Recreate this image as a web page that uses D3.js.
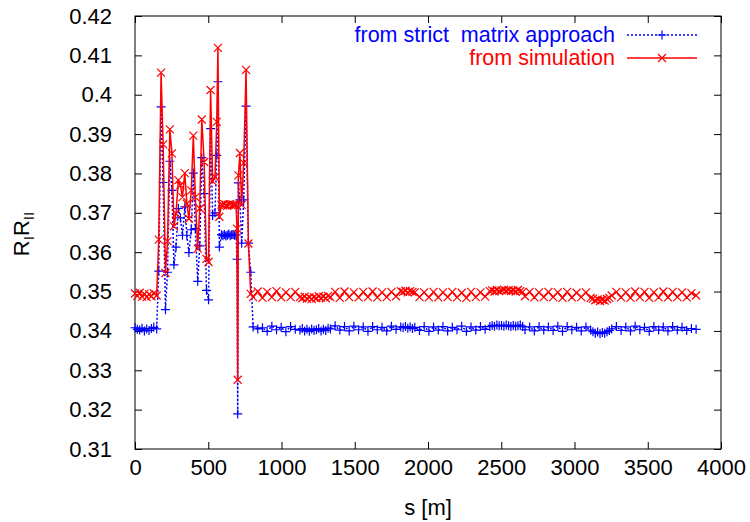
<!DOCTYPE html>
<html>
<head>
<meta charset="utf-8">
<script src="https://cdn.jsdelivr.net/npm/d3@7"></script>
<style>
  body { margin: 0; background: #fff; }
  svg { display: block; font-family: "Liberation Sans", Arial, sans-serif; }
</style>
</head>
<body>
<div id="container"></div>
<script>
"use strict";

const width = 750;
const height = 522;

// position along the line, s [m]
const sPos = [
  0, 16, 32, 48, 64, 80, 96, 112, 128, 148,
  162, 178, 192, 208, 222, 238, 252, 266, 280, 296,
  310, 324, 340, 354, 368, 384, 398, 412, 428, 442,
  456, 472, 488, 502, 516, 530, 546, 558, 566, 576,
  590, 600, 610, 620, 630, 640, 650, 660, 670, 680,
  690, 696, 701, 706, 716, 728, 742, 758, 774, 790,
  806, 838, 870, 902, 934, 966, 998, 1030, 1062, 1094,
  1126, 1142, 1158, 1174, 1190, 1206, 1222, 1238, 1254, 1270,
  1286, 1302, 1318, 1334, 1366, 1398, 1430, 1462, 1494, 1526,
  1558, 1590, 1622, 1654, 1686, 1718, 1750, 1782, 1814, 1830,
  1846, 1862, 1878, 1894, 1910, 1942, 1974, 2006, 2038, 2070,
  2102, 2134, 2166, 2198, 2230, 2262, 2294, 2326, 2358, 2390,
  2422, 2438, 2454, 2470, 2486, 2502, 2518, 2534, 2550, 2566,
  2582, 2598, 2614, 2630, 2646, 2662, 2694, 2726, 2758, 2790,
  2822, 2854, 2886, 2918, 2950, 2982, 3014, 3046, 3078, 3110,
  3126, 3142, 3158, 3174, 3190, 3206, 3222, 3238, 3254, 3286,
  3318, 3350, 3382, 3414, 3446, 3478, 3510, 3542, 3574, 3606,
  3638, 3670, 3702, 3734, 3766, 3798, 3830
];

// from strict matrix approach (blue)
const strictVals = [
  0.3408, 0.3404, 0.3402, 0.3407, 0.3400, 0.3405, 0.3401, 0.3406, 0.3409, 0.3405,
  0.3552, 0.3969, 0.3777, 0.3454, 0.3549, 0.3831, 0.3757, 0.3568, 0.3613, 0.3711,
  0.3687, 0.3643, 0.3715, 0.3643, 0.3599, 0.3657, 0.3801, 0.3660, 0.3526, 0.3616,
  0.3840, 0.3749, 0.3503, 0.3479, 0.3914, 0.3693, 0.3700, 0.3846, 0.4033, 0.3613,
  0.3644, 0.3642, 0.3645, 0.3641, 0.3643, 0.3646, 0.3642, 0.3644, 0.3645, 0.3643,
  0.3644, 0.3582, 0.3189, 0.3776, 0.3733, 0.3623, 0.3733, 0.3971, 0.3623, 0.3549,
  0.3410, 0.3405, 0.3408, 0.3399, 0.3412, 0.3403, 0.3409, 0.3398, 0.3411, 0.3404,
  0.3402, 0.3406, 0.3400, 0.3404, 0.3399, 0.3405, 0.3401, 0.3403, 0.3406, 0.3400,
  0.3404, 0.3401, 0.3407, 0.3405, 0.3413, 0.3402, 0.3411, 0.3400, 0.3412, 0.3403,
  0.3410, 0.3399, 0.3411, 0.3403, 0.3409, 0.3400, 0.3412, 0.3404, 0.3410, 0.3408,
  0.3411, 0.3407, 0.3410, 0.3406, 0.3409, 0.3401, 0.3411, 0.3399, 0.3410, 0.3402,
  0.3411, 0.3400, 0.3409, 0.3403, 0.3412, 0.3399, 0.3410, 0.3402, 0.3411, 0.3404,
  0.3411, 0.3414, 0.3412, 0.3415, 0.3413, 0.3414, 0.3412, 0.3415, 0.3413, 0.3411,
  0.3414, 0.3412, 0.3413, 0.3415, 0.3411, 0.3403, 0.3410, 0.3400, 0.3411, 0.3402,
  0.3410, 0.3401, 0.3412, 0.3399, 0.3411, 0.3403, 0.3409, 0.3400, 0.3410, 0.3402,
  0.3398, 0.3394, 0.3397, 0.3393, 0.3396, 0.3394, 0.3398, 0.3401, 0.3405, 0.3411,
  0.3401, 0.3410, 0.3400, 0.3412, 0.3403, 0.3409, 0.3399, 0.3411, 0.3402, 0.3410,
  0.3400, 0.3411, 0.3402, 0.3409, 0.3401, 0.3406, 0.3404
];

// from simulation (red)
const simVals = [
  0.3495, 0.3489, 0.3497, 0.3487, 0.3494, 0.3486, 0.3493, 0.3488, 0.3496, 0.3490,
  0.3632, 0.4056, 0.3874, 0.3547, 0.3628, 0.3912, 0.3851, 0.3666, 0.3698, 0.3783,
  0.3770, 0.3740, 0.3801, 0.3723, 0.3685, 0.3757, 0.3896, 0.3740, 0.3609, 0.3711,
  0.3937, 0.3829, 0.3583, 0.3575, 0.4012, 0.3780, 0.3791, 0.3931, 0.4119, 0.3690,
  0.3721, 0.3719, 0.3722, 0.3720, 0.3718, 0.3721, 0.3722, 0.3719, 0.3721, 0.3720,
  0.3721, 0.3660, 0.3276, 0.3795, 0.3852, 0.3720, 0.3827, 0.4063, 0.3622, 0.3494,
  0.3486, 0.3500, 0.3484, 0.3499, 0.3486, 0.3501, 0.3485, 0.3498, 0.3486, 0.3499,
  0.3486, 0.3483, 0.3487, 0.3482, 0.3485, 0.3481, 0.3486, 0.3483, 0.3488, 0.3484,
  0.3487, 0.3483, 0.3489, 0.3486, 0.3499, 0.3484, 0.3500, 0.3486, 0.3498, 0.3485,
  0.3499, 0.3486, 0.3500, 0.3485, 0.3498, 0.3486, 0.3499, 0.3488, 0.3501, 0.3499,
  0.3502, 0.3498, 0.3501, 0.3499, 0.3498, 0.3486, 0.3498, 0.3485, 0.3499, 0.3485,
  0.3498, 0.3486, 0.3499, 0.3485, 0.3497, 0.3484, 0.3499, 0.3486, 0.3498, 0.3487,
  0.3501, 0.3503, 0.3500, 0.3504, 0.3501, 0.3503, 0.3505, 0.3502, 0.3504, 0.3501,
  0.3503, 0.3500, 0.3504, 0.3501, 0.3499, 0.3488, 0.3499, 0.3485, 0.3498, 0.3486,
  0.3499, 0.3486, 0.3498, 0.3484, 0.3499, 0.3485, 0.3497, 0.3486, 0.3498, 0.3484,
  0.3482, 0.3478, 0.3480, 0.3476, 0.3479, 0.3477, 0.3481, 0.3484, 0.3490, 0.3499,
  0.3485, 0.3498, 0.3484, 0.3500, 0.3486, 0.3499, 0.3484, 0.3498, 0.3485, 0.3500,
  0.3485, 0.3499, 0.3486, 0.3498, 0.3485, 0.3496, 0.3490
];

const xTicks = [0, 500, 1000, 1500, 2000, 2500, 3000, 3500, 4000];
const yTicks = [0.31, 0.32, 0.33, 0.34, 0.35, 0.36, 0.37, 0.38, 0.39, 0.40, 0.41, 0.42];

const seriesNames = ["from strict  matrix approach", "from simulation"];
const seriesColors = ["#0000ff", "#ff0000"];

const mLeft = 135, mRight = 721, mTop = 16, mBottom = 449;

const x = d3.scaleLinear().domain([0, 4000]).range([mLeft, mRight]);
const y = d3.scaleLinear().domain([0.31, 0.42]).range([mBottom, mTop]);

const svg = d3.select("#container").append("svg")
    .attr("width", width)
    .attr("height", height);

// axes with inward ticks on all four sides (gnuplot style)
const tickLen = 7;
const fmtY = d => d3.format(".2f")(d).replace(/0$/, "");

function styleAxis(g) {
    g.select(".domain").remove();
    g.selectAll(".tick line").attr("stroke", "#000").attr("stroke-width", 1);
    g.selectAll(".tick text").attr("fill", "#000").style("font-size", "22px");
}

svg.append("g")
    .attr("transform", `translate(${mLeft},0)`)
    .call(d3.axisLeft(y).tickValues(yTicks).tickSize(-tickLen).tickPadding(23).tickFormat(fmtY))
    .call(styleAxis);

svg.append("g")
    .attr("transform", `translate(${mRight},0)`)
    .call(d3.axisRight(y).tickValues(yTicks).tickSize(-tickLen).tickFormat(""))
    .call(styleAxis);

svg.append("g")
    .attr("transform", `translate(0,${mBottom})`)
    .call(d3.axisBottom(x).tickValues(xTicks).tickSize(-tickLen).tickPadding(10).tickFormat(d3.format("d")))
    .call(styleAxis);

svg.append("g")
    .attr("transform", `translate(0,${mTop})`)
    .call(d3.axisTop(x).tickValues(xTicks).tickSize(-tickLen).tickFormat(""))
    .call(styleAxis);

svg.append("rect")
    .attr("x", mLeft).attr("y", mTop)
    .attr("width", mRight - mLeft).attr("height", mBottom - mTop)
    .attr("fill", "none").attr("stroke", "#000").attr("stroke-width", 1);

// axis labels
const yl = svg.append("text")
    .attr("transform", "translate(29,234) rotate(-90)")
    .attr("text-anchor", "middle")
    .style("font-size", "22px")
    .attr("fill", "#000");
yl.append("tspan").text("R");
yl.append("tspan").attr("dy", 5).style("font-size", "15px").text("I");
yl.append("tspan").attr("dy", -5).text("R");
yl.append("tspan").attr("dy", 5).style("font-size", "15px").text("II");

svg.append("text")
    .attr("x", (mLeft + mRight) / 2).attr("y", 515)
    .attr("text-anchor", "middle")
    .style("font-size", "22px")
    .text("s [m]");

// markers
const plusPath = (cx, cy, r) => `M${cx - r},${cy}H${cx + r}M${cx},${cy - r}V${cy + r}`;
const crossPath = (cx, cy, r) => `M${cx - r},${cy - r}L${cx + r},${cy + r}M${cx - r},${cy + r}L${cx + r},${cy - r}`;

const strictData = sPos.map((s, i) => [s, strictVals[i]]);
const simData = sPos.map((s, i) => [s, simVals[i]]);

const line = d3.line().x(d => x(d[0])).y(d => y(d[1]));
const plot = svg.append("g");

// blue: dotted line with + points
plot.append("path")
    .datum(strictData)
    .attr("d", line)
    .attr("fill", "none")
    .attr("stroke", seriesColors[0])
    .attr("stroke-width", 1.5)
    .attr("stroke-dasharray", "2,2");
plot.append("path")
    .attr("d", strictData.map(d => plusPath(x(d[0]), y(d[1]), 4.5)).join(""))
    .attr("fill", "none")
    .attr("stroke", seriesColors[0])
    .attr("stroke-width", 1.2);

// red: solid line with x points
plot.append("path")
    .datum(simData)
    .attr("d", line)
    .attr("fill", "none")
    .attr("stroke", seriesColors[1])
    .attr("stroke-width", 1.5);
plot.append("path")
    .attr("d", simData.map(d => crossPath(x(d[0]), y(d[1]), 4)).join(""))
    .attr("fill", "none")
    .attr("stroke", seriesColors[1])
    .attr("stroke-width", 1.2);

// legend
const legendY = [35, 58];
seriesNames.forEach((name, i) => {
    const ly = legendY[i];
    svg.append("text")
        .attr("x", 615).attr("y", ly)
        .attr("text-anchor", "end")
        .attr("dominant-baseline", "central")
        .style("font-size", "21.5px")
        .style("white-space", "pre")
        .attr("fill", seriesColors[i])
        .text(name);
    svg.append("line")
        .attr("x1", 627).attr("x2", 697)
        .attr("y1", ly).attr("y2", ly)
        .attr("stroke", seriesColors[i])
        .attr("stroke-width", 1.5)
        .attr("stroke-dasharray", i === 0 ? "2,2" : null);
    svg.append("path")
        .attr("d", i === 0 ? plusPath(662, ly, 4.5) : crossPath(662, ly, 4))
        .attr("fill", "none")
        .attr("stroke", seriesColors[i])
        .attr("stroke-width", 1.2);
});
</script>
</body>
</html>
